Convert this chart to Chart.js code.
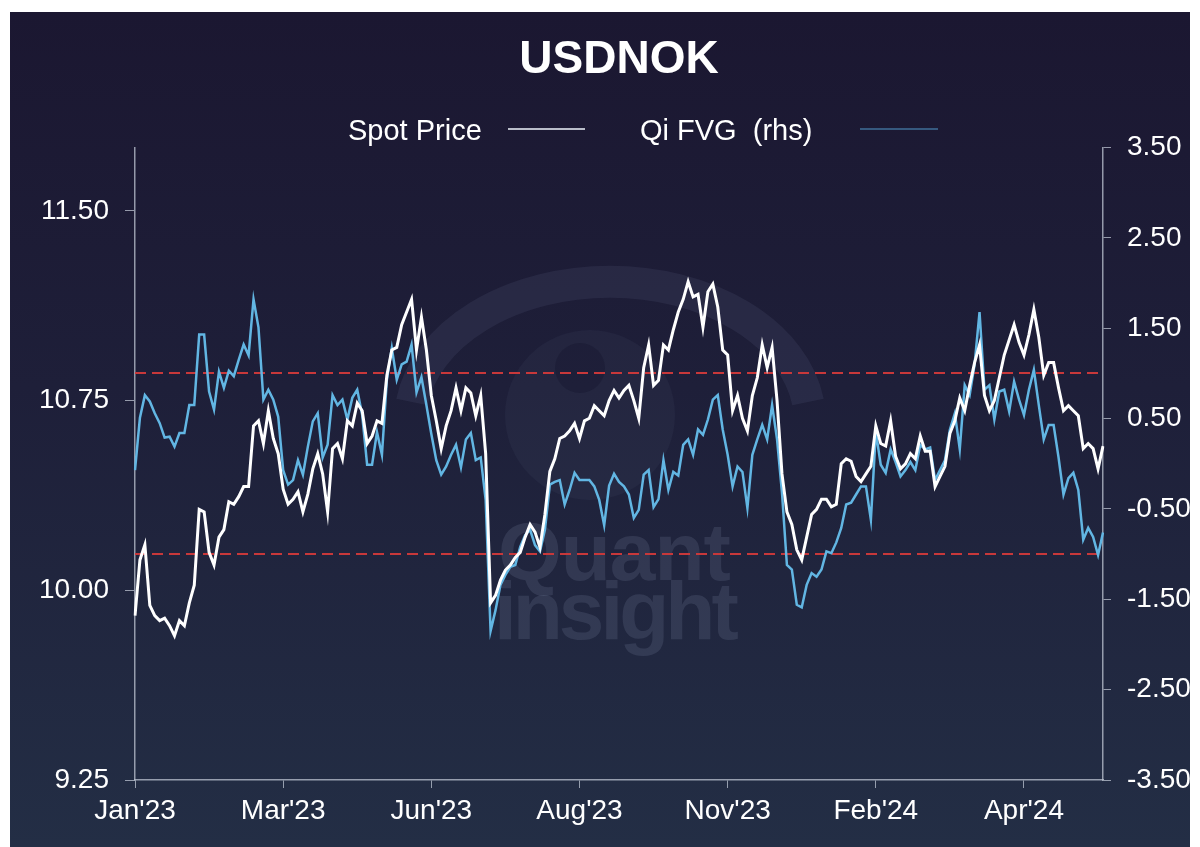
<!DOCTYPE html>
<html>
<head>
<meta charset="utf-8">
<script src="https://cdn.jsdelivr.net/npm/chart.js@4/dist/chart.umd.min.js"></script>
<style>
  body { margin: 0; background: #ffffff; }
  #frame {
    position: absolute; left: 10px; top: 12px; width: 1180px; height: 835px;
    background: linear-gradient(to bottom, #1b1731 0%, #1e1f39 45%, #232e45 100%);
    overflow: hidden; font-family: "Liberation Sans", Arial, sans-serif;
  }
  #wm { position: absolute; left: 0; top: 0; width: 1180px; height: 835px; }
  .wmtext { position: absolute; font-weight: bold; font-size: 82px; color: rgba(140,152,185,0.17); }
  #chart { position: absolute; left: 0; top: 0; }
  .leg { position: absolute; color: #ffffff; font-size: 29px; white-space: pre; line-height: 1; }
  .legline { position: absolute; height: 2px; }
</style>
</head>
<body>
<div id="frame">
  <div id="wm">
    <svg width="1180" height="835" style="position:absolute;left:0;top:0">
      <path d="M 402 390 A 200 140 0 0 1 798 390" fill="none" stroke="rgba(140,152,185,0.10)" stroke-width="32"/>
      <circle cx="580" cy="403" r="85" fill="rgba(140,152,185,0.06)"/>
      <circle cx="570" cy="356" r="25" fill="rgba(10,10,30,0.22)"/>
    </svg>
    <div class="wmtext" style="left:488px; top:493px; letter-spacing:-1px;">Quant</div>
    <div class="wmtext" style="left:484px; top:552px; letter-spacing:-4px;">insight</div>
  </div>
  <canvas id="chart" width="1180" height="835"></canvas>
  <div class="leg" style="left:338px; top:104px;">Spot Price</div>
  <div class="legline" style="left:498px; top:116px; width:77px; background:#b9bdc9;"></div>
  <div class="leg" style="left:630px; top:104px;">Qi FVG  (rhs)</div>
  <div class="legline" style="left:850px; top:116px; width:78px; background:#36597f;"></div>
</div>
<script>
// USDNOK spot vs Qi FVG, Jan 2023 - May 2024
const tickLabels = ["Jan'23", "Mar'23", "Jun'23", "Aug'23", "Nov'23", "Feb'24", "Apr'24"];
const tickEvery = 30;

const spotPrice = [
  9.90, 10.12, 10.18, 9.94, 9.90, 9.88, 9.89, 9.86, 9.82, 9.88,
  9.86, 9.95, 10.02, 10.32, 10.31, 10.15, 10.10, 10.21, 10.24, 10.35,
  10.34, 10.37, 10.41, 10.41, 10.65, 10.67, 10.58, 10.71, 10.60, 10.54,
  10.40, 10.34, 10.36, 10.39, 10.31, 10.38, 10.48, 10.54, 10.46, 10.31,
  10.56, 10.58, 10.52, 10.67, 10.65, 10.74, 10.71, 10.58, 10.61, 10.67,
  10.66, 10.85, 10.95, 10.96, 11.05, 11.10, 11.15, 10.95, 11.08, 10.95,
  10.77, 10.67, 10.56, 10.65, 10.71, 10.80, 10.71, 10.80, 10.78, 10.69,
  10.77, 10.54, 9.95, 9.98, 10.04, 10.08, 10.10, 10.13, 10.15, 10.21,
  10.26, 10.23, 10.17, 10.30, 10.47, 10.52, 10.60, 10.61, 10.63, 10.66,
  10.60, 10.67, 10.68, 10.73, 10.71, 10.69, 10.75, 10.79, 10.76, 10.79,
  10.81, 10.75, 10.68, 10.88, 10.97, 10.81, 10.83, 10.97, 10.95, 11.03,
  11.10, 11.15, 11.22, 11.16, 11.17, 11.04, 11.18, 11.21, 11.12, 10.95,
  10.93, 10.71, 10.77, 10.68, 10.63, 10.77, 10.84, 10.97, 10.88, 10.96,
  10.75, 10.46, 10.31, 10.26, 10.16, 10.12, 10.21, 10.30, 10.32, 10.36,
  10.36, 10.33, 10.34, 10.50, 10.52, 10.51, 10.45, 10.43, 10.46, 10.49,
  10.65, 10.58, 10.57, 10.67, 10.53, 10.48, 10.50, 10.54, 10.52, 10.61,
  10.55, 10.55, 10.41, 10.45, 10.49, 10.62, 10.67, 10.76, 10.71, 10.81,
  10.90, 10.97, 10.77, 10.71, 10.75, 10.84, 10.93, 10.99, 11.05, 10.98,
  10.93, 11.01, 11.11, 11.00, 10.85, 10.90, 10.90, 10.80, 10.71, 10.73,
  10.71, 10.69, 10.56, 10.58, 10.56, 10.48, 10.57
];

const qiFvg = [
  -0.07, 0.51, 0.76, 0.69, 0.56, 0.45, 0.29, 0.30, 0.19, 0.34,
  0.34, 0.65, 0.65, 1.43, 1.43, 0.80, 0.60, 1.02, 0.84, 1.03,
  0.97, 1.15, 1.32, 1.20, 1.82, 1.51, 0.71, 0.82, 0.71, 0.52,
  -0.07, -0.23, -0.18, 0.04, -0.12, 0.19, 0.47, 0.56, 0.07, 0.21,
  0.76, 0.65, 0.71, 0.49, 0.73, 0.82, 0.54, -0.01, -0.01, 0.35,
  0.10, 0.93, 1.28, 0.93, 1.10, 1.13, 1.32, 0.79, 0.96, 0.65,
  0.33, 0.04, -0.12, -0.03, 0.10, 0.21, -0.04, 0.27, 0.34, 0.04,
  0.07, -0.40, -1.85, -1.62, -1.34, -1.23, -1.14, -1.12, -0.92, -0.79,
  -0.73, -0.90, -0.97, -0.73, -0.23, -0.20, -0.18, -0.45, -0.29, -0.10,
  -0.18, -0.18, -0.18, -0.25, -0.40, -0.68, -0.24, -0.11, -0.20, -0.25,
  -0.34, -0.60, -0.51, -0.12, -0.07, -0.48, -0.39, 0.04, -0.29, -0.09,
  -0.13, 0.21, 0.27, 0.10, 0.38, 0.32, 0.49, 0.71, 0.76, 0.38,
  0.10, -0.25, -0.03, -0.09, -0.49, 0.10, 0.27, 0.43, 0.27, 0.65,
  0.27, -0.32, -1.12, -1.17, -1.56, -1.59, -1.34, -1.21, -1.25, -1.17,
  -0.97, -0.99, -0.87, -0.71, -0.45, -0.43, -0.34, -0.25, -0.25, -0.62,
  0.35, -0.01, -0.10, 0.16, 0.02, -0.14, -0.07, 0.02, -0.07, 0.21,
  0.16, 0.18, -0.18, -0.07, 0.04, 0.38, 0.56, 0.16, 0.87, 0.76,
  1.10, 1.68, 0.82, 0.87, 0.49, 0.80, 0.82, 0.58, 0.91, 0.71,
  0.54, 0.82, 1.04, 0.65, 0.27, 0.43, 0.43, 0.07, -0.34, -0.16,
  -0.10, -0.29, -0.84, -0.71, -0.81, -1.01, -0.76
];

const lhsTicks = [9.25, 10.00, 10.75, 11.50];
const rhsTicks = [-3.5, -2.5, -1.5, -0.5, 0.5, 1.5, 2.5, 3.5];
const fvgBands = [1, -1];

const categories = spotPrice.map((v, i) => i % tickEvery === 0 ? tickLabels[i / tickEvery] : '');

const axisColor = 'rgba(190,196,210,0.75)';
const textColor = '#ffffff';
const fontFamily = '"Liberation Sans", Arial, sans-serif';

// red dashed +/-1 bands on the rhs scale
const bandLines = {
  id: 'bandLines',
  beforeDatasetsDraw(chart) {
    const { ctx, chartArea } = chart;
    const y1 = chart.scales.y1;
    ctx.save();
    ctx.strokeStyle = '#c8383a';
    ctx.lineWidth = 2;
    ctx.setLineDash([11, 6]);
    fvgBands.forEach(v => {
      const py = Math.round(y1.getPixelForValue(v));
      ctx.beginPath();
      ctx.moveTo(chartArea.left, py);
      ctx.lineTo(chartArea.right, py);
      ctx.stroke();
    });
    ctx.restore();
  }
};

new Chart(document.getElementById('chart'), {
  type: 'line',
  data: {
    labels: categories,
    datasets: [{
      label: 'Spot Price',
      data: spotPrice,
      borderColor: '#ffffff',
      borderWidth: 3,
      pointRadius: 0,
      tension: 0,
      yAxisID: 'y'
    }, {
      label: 'Qi FVG  (rhs)',
      data: qiFvg,
      borderColor: '#62b6e3',
      borderWidth: 2.5,
      pointRadius: 0,
      tension: 0,
      yAxisID: 'y1'
    }]
  },
  options: {
    responsive: false,
    animation: false,
    layout: { padding: 0 },
    plugins: {
      legend: { display: false },
      tooltip: { enabled: false },
      title: {
        display: true,
        fullSize: false,
        text: 'USDNOK',
        color: textColor,
        font: { family: fontFamily, size: 46, weight: 'bold', lineHeight: 1.2 },
        padding: { top: 21, bottom: 59.4 }
      }
    },
    scales: {
      x: {
        afterFit: s => { s.height = 67; },
        afterBuildTicks: s => { s.ticks = s.ticks.filter(t => t.value % tickEvery === 0); },
        grid: { display: true, drawOnChartArea: false, drawTicks: true, tickLength: 8, color: axisColor },
        border: { display: true, color: axisColor, width: 1.5 },
        ticks: {
          autoSkip: false, maxRotation: 0, padding: 6, color: textColor,
          font: { family: fontFamily, size: 28 },
          callback: (v, i, t) => categories[t[i].value]
        }
      },
      y: {
        position: 'left',
        min: 9.25,
        max: 11.75,
        afterFit: s => { s.width = 125; },
        afterBuildTicks: s => { s.ticks = lhsTicks.map(v => ({ value: v })); },
        grid: { display: true, drawOnChartArea: false, drawTicks: true, tickLength: 10, color: axisColor },
        border: { display: true, color: axisColor, width: 1.5 },
        ticks: {
          padding: 16, color: textColor,
          font: { family: fontFamily, size: 28 },
          callback: v => v.toFixed(2)
        }
      },
      y1: {
        position: 'right',
        min: -3.5,
        max: 3.5,
        afterFit: s => { s.width = 87; },
        afterBuildTicks: s => { s.ticks = rhsTicks.map(v => ({ value: v })); },
        grid: { display: true, drawOnChartArea: false, drawTicks: true, tickLength: 8, color: axisColor },
        border: { display: true, color: axisColor, width: 1.5 },
        ticks: {
          padding: 16, color: textColor,
          font: { family: fontFamily, size: 28 },
          callback: v => v.toFixed(2)
        }
      }
    }
  },
  plugins: [bandLines]
});
</script>
</body>
</html>
